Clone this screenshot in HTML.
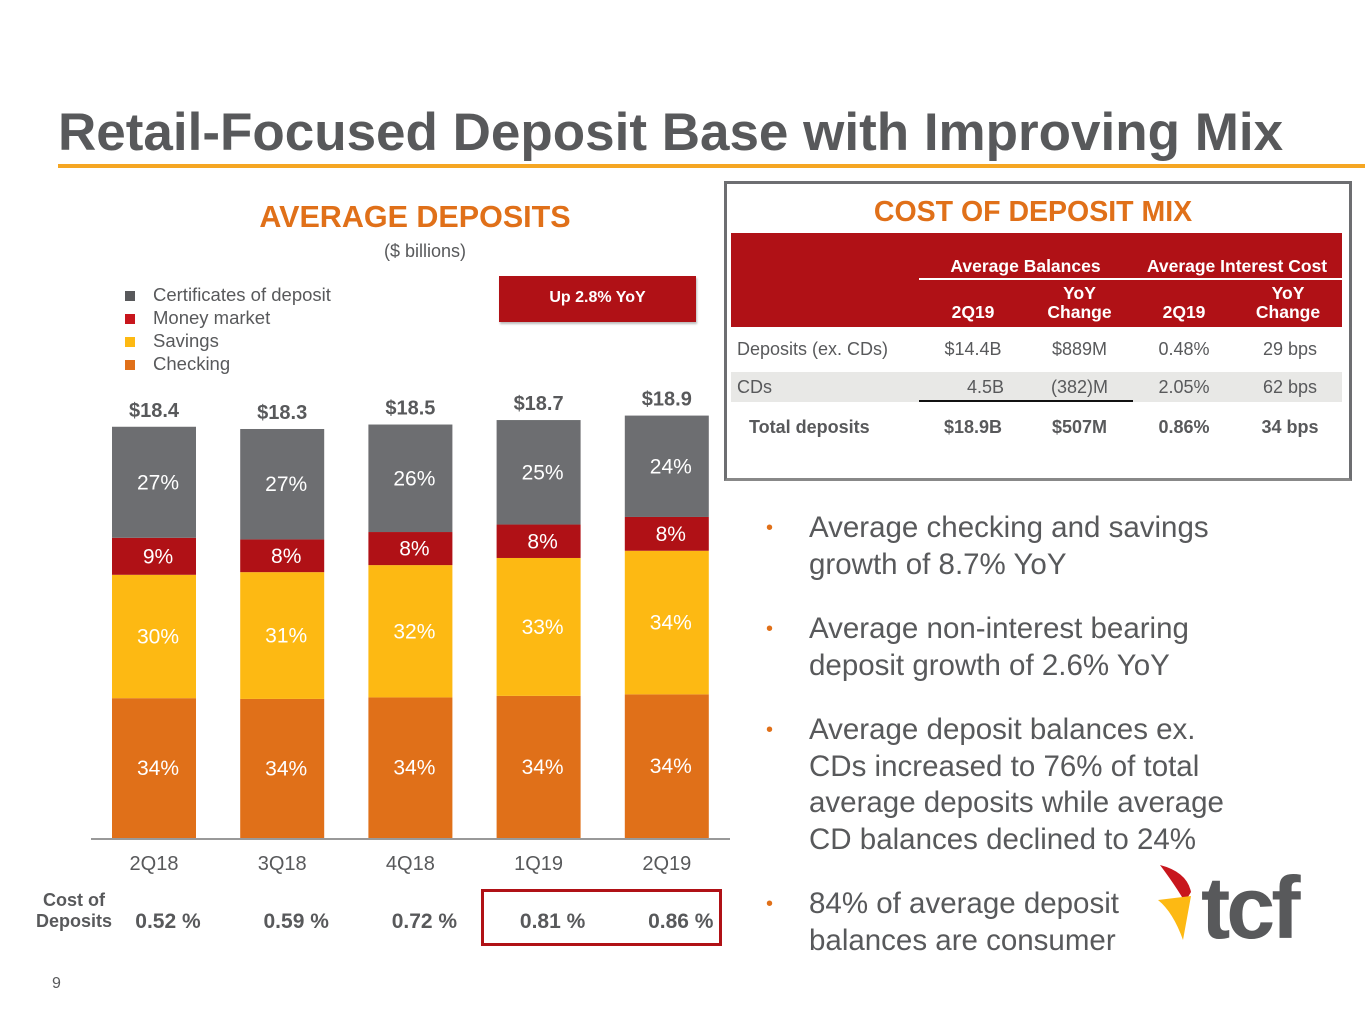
<!DOCTYPE html>
<html><head><meta charset="utf-8">
<style>
body{margin:0;width:1365px;height:1024px;background:#fff;font-family:"Liberation Sans",Arial,sans-serif;position:relative;overflow:hidden}
.abs{position:absolute}
#title{left:58px;top:102px;font-size:53px;font-weight:bold;color:#58595b;white-space:nowrap}
#rule{left:58px;top:164px;width:1307px;height:4px;background:#f5a623}
</style></head><body>
<div id="title" class="abs">Retail-Focused Deposit Base with Improving Mix</div>
<div id="rule" class="abs"></div>

<div class="abs" style="left:200px;top:200px;width:430px;text-align:center;font-size:30.5px;font-weight:bold;color:#e07019">AVERAGE DEPOSITS</div>
<div class="abs" style="left:200px;top:241px;width:450px;text-align:center;font-size:18px;color:#58595b">($ billions)</div>
<div class="abs" style="left:499px;top:276px;width:197px;height:46px;background:#b01116;color:#fff;font-weight:bold;font-size:16px;line-height:44px;text-align:center;box-shadow:1px 2px 2px #bbb">Up 2.8% YoY</div>

<svg class="abs" style="left:0;top:0" width="730" height="1000" id="chart"></svg>

<div class="abs" style="left:24px;top:890px;width:100px;text-align:center;font-size:18px;font-weight:bold;color:#58595b;line-height:21px">Cost of<br>Deposits</div>
<div class="abs" style="left:481px;top:889px;width:235px;height:51px;border:3px solid #b01116"></div>

<div class="abs" style="left:724px;top:181px;width:622px;height:294px;border:3px solid #6d6e71;border-bottom-color:#888"></div>
<div class="abs" style="left:727px;top:196px;width:612px;text-align:center;font-size:28.5px;font-weight:bold;color:#e07019">COST OF DEPOSIT MIX</div>
<div class="abs" style="left:731px;top:233px;width:611px;height:94px;background:#b01116"></div>
<div class="abs" style="left:919px;top:278px;width:423px;height:2px;background:#fff"></div>
<div class="abs" style="left:919px;top:256px;width:213px;text-align:center;color:#fff;font-weight:bold;font-size:17.5px">Average Balances</div>
<div class="abs" style="left:1132px;top:256px;width:210px;text-align:center;color:#fff;font-weight:bold;font-size:17.5px">Average Interest Cost</div>
<div class="abs" style="left:919px;top:302px;width:108px;text-align:center;color:#fff;font-weight:bold;font-size:17.5px">2Q19</div>
<div class="abs" style="left:1027px;top:284px;width:105px;text-align:center;color:#fff;font-weight:bold;font-size:17.5px;line-height:19px">YoY<br>Change</div>
<div class="abs" style="left:1132px;top:302px;width:104px;text-align:center;color:#fff;font-weight:bold;font-size:17.5px">2Q19</div>
<div class="abs" style="left:1236px;top:284px;width:104px;text-align:center;color:#fff;font-weight:bold;font-size:17.5px;line-height:19px">YoY<br>Change</div>
<div class="abs" style="left:731px;top:372px;width:611px;height:30px;background:#e8e8e6"></div>
<div class="abs" style="left:919px;top:400px;width:214px;height:2px;background:#111"></div>
<div class="abs" style="left:731px;top:339px;width:611px;font-size:18px;color:#58595b">
 <div style="position:absolute;top:0;left:6px">Deposits (ex. CDs)</div><div style="position:absolute;top:0;left:188px;width:108px;text-align:center">$14.4B</div><div style="position:absolute;top:0;left:296px;width:105px;text-align:center">$889M</div><div style="position:absolute;top:0;left:401px;width:104px;text-align:center">0.48%</div><div style="position:absolute;top:0;left:505px;width:108px;text-align:center">29 bps</div>
 <div style="position:absolute;top:38px;left:6px">CDs</div><div style="position:absolute;top:38px;left:188px;width:85px;text-align:right">4.5B</div><div style="position:absolute;top:38px;left:296px;width:105px;text-align:center">(382)M</div><div style="position:absolute;top:38px;left:401px;width:104px;text-align:center">2.05%</div><div style="position:absolute;top:38px;left:505px;width:108px;text-align:center">62 bps</div>
 <div style="position:absolute;top:78px;left:18px;font-weight:bold">Total deposits</div><div style="position:absolute;top:78px;left:188px;width:108px;text-align:center;font-weight:bold">$18.9B</div><div style="position:absolute;top:78px;left:296px;width:105px;text-align:center;font-weight:bold">$507M</div><div style="position:absolute;top:78px;left:401px;width:104px;text-align:center;font-weight:bold">0.86%</div><div style="position:absolute;top:78px;left:505px;width:108px;text-align:center;font-weight:bold">34 bps</div>
</div>

<div class="abs" style="left:766px;top:510px;width:490px;font-size:29.5px;color:#58595b;line-height:36.5px">
 <div style="position:absolute;top:0;left:0;color:#e07019;font-size:20px">•</div><div style="position:absolute;top:0;left:43px;width:450px">Average checking and savings growth of 8.7% YoY</div>
 <div style="position:absolute;top:101px;left:0;color:#e07019;font-size:20px">•</div><div style="position:absolute;top:101px;left:43px;width:450px">Average non-interest bearing deposit growth of 2.6% YoY</div>
 <div style="position:absolute;top:202px;left:0;color:#e07019;font-size:20px">•</div><div style="position:absolute;top:202px;left:43px;width:450px">Average deposit balances ex. CDs increased to 76% of total average deposits while average CD balances declined to 24%</div>
 <div style="position:absolute;top:376px;left:0;color:#e07019;font-size:20px">•</div><div style="position:absolute;top:376px;left:43px;width:360px">84% of average deposit balances are consumer</div>
</div>

<svg class="abs" style="left:1155px;top:860px" width="180" height="85">
 <path d="M5 5 Q32 12 36 32 L30 42 Q20 25 5 5Z" fill="#c8161d"/>
 <path d="M3 40 L36 36 L28 80 Q18 52 3 40Z" fill="#fdb913"/>
 <text x="46" y="78" font-size="88" font-weight="bold" fill="#58595b" font-family="Liberation Sans,sans-serif" letter-spacing="-4">tcf</text>
</svg>
<div class="abs" style="left:52px;top:975px;font-size:16px;color:#58595b">9</div>

<script>
const categories=["2Q18","3Q18","4Q18","1Q19","2Q19"];
const totals=[18.4,18.3,18.5,18.7,18.9];
const checking=[34,34,34,34,34];
const savings=[30,31,32,33,34];
const moneyMarket=[9,8,8,8,8];
const cds=[27,27,26,25,24];
const costOfDeposits=["0.52 %","0.59 %","0.72 %","0.81 %","0.86 %"];
const seriesNames=["Certificates of deposit","Money market","Savings","Checking"];

const NS="http://www.w3.org/2000/svg";
const svg=document.getElementById('chart');
const baseY=838, pxPerB=22.35, x0=112, step=128.2, bw=84;
const yPos=v=>baseY-v*pxPerB;
const xPos=i=>x0+i*step;
function mk(tag,attrs,txt){const e=document.createElementNS(NS,tag);for(const k in attrs)e.setAttribute(k,attrs[k]);if(txt!==undefined)e.textContent=txt;svg.appendChild(e);return e;}
const segs=[{d:checking,c:"#e07019",n:"checking"},{d:savings,c:"#fdb913",n:"savings"},{d:moneyMarket,c:"#b01116",n:"money-market"},{d:cds,c:"#6d6e71",n:"cds"}];
categories.forEach((cat,i)=>{
  let cum=0;
  segs.forEach(s=>{
    const v=totals[i]*s.d[i]/100;
    const y1=yPos(cum), y2=yPos(cum+v);
    const r=mk('rect',{x:xPos(i),y:y2,width:bw,height:y1-y2,fill:s.c});
    
    
    const t=mk('text',{x:xPos(i)+bw/2+4,y:(y1+y2)/2+7,'text-anchor':'middle','font-size':21,fill:'#fff'},s.d[i]+'%');
    
    
    cum+=v;
  });
  const tl=mk('text',{x:xPos(i)+bw/2,y:yPos(totals[i])-10,'text-anchor':'middle','font-size':20,'font-weight':'bold',fill:'#58595b'},'$'+totals[i].toFixed(1));
  
  
  const xl=mk('text',{x:xPos(i)+bw/2,y:870,'text-anchor':'middle','font-size':20,fill:'#58595b'},cat);
  
  
  const cl=mk('text',{x:xPos(i)+bw/2+14,y:928,'text-anchor':'middle','font-size':21,'font-weight':'bold',fill:'#58595b'},costOfDeposits[i]);
  
  
});
const ax=mk('line',{x1:91,x2:730,y1:baseY+1,y2:baseY+1,stroke:'#999','stroke-width':2});


const lc=["#58595b","#c8161d","#fdb913","#e07019"];
seriesNames.forEach((n,i)=>{
  const r=mk('rect',{x:125,y:291+i*23,width:10,height:10,fill:lc[i]});
  
  
  const t=mk('text',{x:153,y:301+i*23,'font-size':18.5,fill:'#58595b'},n);
  
  
});
</script>
</body></html>
